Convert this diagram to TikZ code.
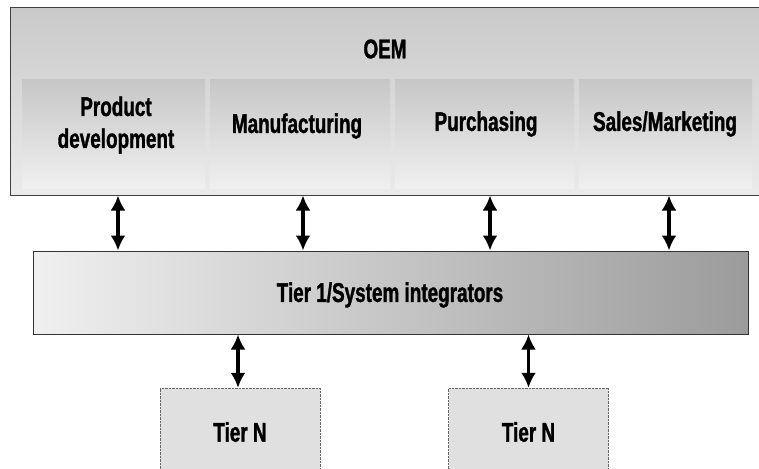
\documentclass[tikz,border=0pt]{standalone}
\usepackage{fontspec}
\setmainfont{Liberation Sans}[FakeStretch=0.70, BoldFeatures={FakeBold=1.2}]
\usetikzlibrary{arrows.meta,positioning}

\begin{document}
\begin{tikzpicture}[
    x=1pt, y=-1pt,
    font=\fontsize{27}{32}\selectfont\bfseries,
    oembox/.style={draw=black!75, line width=1pt, top color=gray!42, bottom color=gray!16, minimum width=749pt, minimum height=187pt, inner sep=0pt},
    panel/.style={top color=gray!44, bottom color=gray!12, minimum height=108pt, inner sep=0pt},
    lbl/.style={align=center, inner sep=1pt},
    tierbox/.style={draw=black!80, line width=1pt, left color=gray!12, right color=gray!78, minimum width=715pt, minimum height=83pt},
    subbox/.style={draw=black!60, densely dotted, fill=gray!24, minimum width=160pt, minimum height=84pt},
    dbl/.style={{Latex[length=15pt,width=15pt]}-{Latex[length=15pt,width=15pt]}, line width=3.2pt},
  ]
    \useasboundingbox (0,0) rectangle (759,468);

    % OEM block with its four departments
    \node[oembox] (oem) at (384.5,101.5) {};
    \node[panel, minimum width=183pt] (pdbox) at (113.5,134) {};
    \node[panel, minimum width=180pt] (mfbox) at (300,134) {};
    \node[panel, minimum width=179pt] (pcbox) at (484.5,134) {};
    \node[panel, minimum width=173pt] (smbox) at (665.5,134) {};

    \node[lbl] (oemlbl) at (385,49) {OEM};
    \node[lbl] (pdev) at (116,125) {Product\\development};
    \node[lbl] (manu) at (297,126) {Manufacturing};
    \node[lbl] (purch) at (486,124) {Purchasing};
    \node[lbl] (sales) at (665,124) {Sales/Marketing};

    % first tier
    \node[tierbox] (tier) at (390.5,292.5) {};
    \node[lbl] (tierlbl) at (390,295) {Tier 1/System integrators};

    % lower tiers
    \node[subbox] (tiera) at (240,430) {};
    \node[subbox] (tierb) at (528.5,430) {};
    \node[lbl] (tieralbl) at (240,432) {Tier N};
    \node[lbl] (tierblbl) at (528.5,432) {Tier N};

    \draw[dbl] ([xshift=2pt]pdev |- oem.south) -- ([xshift=2pt]pdev |- tier.north);
    \draw[dbl] ([xshift=6pt]manu |- oem.south) -- ([xshift=6pt]manu |- tier.north);
    \draw[dbl] ([xshift=4pt]purch |- oem.south) -- ([xshift=4pt]purch |- tier.north);
    \draw[dbl] ([xshift=4pt]sales |- oem.south) -- ([xshift=4pt]sales |- tier.north);

    \draw[dbl] ([xshift=-2pt]tiera.north |- tier.south) -- ([xshift=-2pt]tiera.north);
    \draw[dbl] (tierb.north |- tier.south) -- (tierb.north);
  \end{tikzpicture}
\end{document}
